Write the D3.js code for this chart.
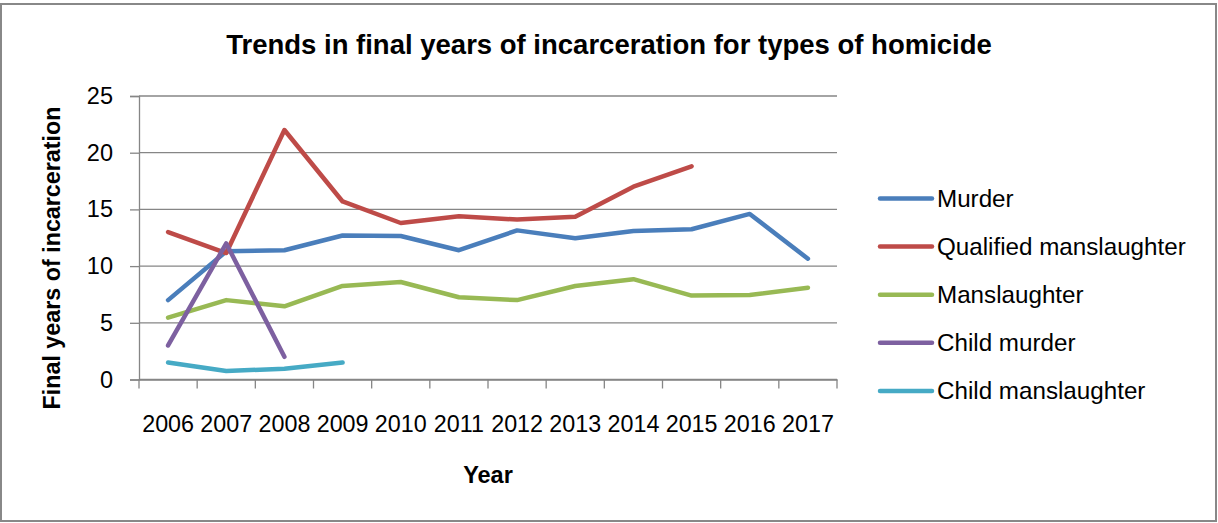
<!DOCTYPE html>
<html>
<head>
<meta charset="utf-8">
<script src="https://cdn.jsdelivr.net/npm/d3@7"></script>
<style>
  body { margin: 0; background: #fff; }
  svg { display: block; font-family: "Liberation Sans", Arial, sans-serif; }
</style>
</head>
<body>
<svg id="chart" width="1218" height="523"></svg>
<script>
var years = ["2006", "2007", "2008", "2009", "2010", "2011", "2012", "2013", "2014", "2015", "2016", "2017"];
var yTicks = [0, 5, 10, 15, 20, 25];

var seriesNames = ["Murder", "Qualified manslaughter", "Manslaughter", "Child murder", "Child manslaughter"];
var murder = [7.0, 11.3, 11.4, 12.7, 12.65, 11.4, 13.15, 12.45, 13.1, 13.25, 14.6, 10.65];
var qualifiedManslaughter = [13.0, 11.15, 22.0, 15.7, 13.8, 14.4, 14.1, 14.35, 17.0, 18.8, null, null];
var manslaughter = [5.45, 7.0, 6.45, 8.25, 8.6, 7.25, 7.0, 8.25, 8.85, 7.4, 7.45, 8.1];
var childMurder = [3.0, 12.0, 2.0, null, null, null, null, null, null, null, null, null];
var childManslaughter = [1.5, 0.75, 0.95, 1.5, null, null, null, null, null, null, null, null];

var colours = ["#4A7EBB", "#BE4B48", "#98B954", "#7D60A0", "#46AAC5"];

var svg = d3.select("#chart");

// outer border
svg.append("rect")
  .attr("x", 1).attr("y", 4)
  .attr("width", 1215).attr("height", 517)
  .attr("fill", "#fff")
  .attr("stroke", "#888")
  .attr("stroke-width", 2);

var x = d3.scaleBand().domain(years).range([139, 837]);
var y = d3.scaleLinear().domain([0, 25]).range([379.5, 96]);

// gridlines
svg.append("g")
  .selectAll("line")
  .data(yTicks)
  .enter().append("line")
  .attr("x1", 139).attr("x2", 837)
  .attr("y1", function(d) { return y(d); })
  .attr("y2", function(d) { return y(d); })
  .attr("stroke", "#868686")
  .attr("stroke-width", 1.3);

// y axis
var yAxis = d3.axisLeft(y).tickValues(yTicks).tickSize(9).tickPadding(17);
var gy = svg.append("g")
  .attr("transform", "translate(139,0)")
  .call(yAxis);
gy.select(".domain").attr("stroke", "#868686").attr("stroke-width", 1.3);
gy.selectAll(".tick line").attr("stroke", "#868686").attr("stroke-width", 1.3);
gy.selectAll(".tick text")
  .attr("fill", "#000")
  .style("font-size", "23.5px")
  .style("font-family", "Liberation Sans, Arial, sans-serif");

// x axis (ticks between categories)
var xAxis = d3.axisBottom(x).tickSize(0).tickPadding(0);
var gx = svg.append("g")
  .attr("transform", "translate(0," + y(0) + ")")
  .call(xAxis);
gx.select(".domain").attr("stroke", "#868686").attr("stroke-width", 1.3);
gx.selectAll(".tick text")
  .attr("y", 52)
  .attr("dy", 0)
  .attr("fill", "#000")
  .style("font-size", "23.3px")
  .style("font-family", "Liberation Sans, Arial, sans-serif");

var boundaries = years.map(function(d) { return x(d); }).concat([x.range()[1]]);
svg.append("g")
  .selectAll("line")
  .data(boundaries)
  .enter().append("line")
  .attr("x1", function(d) { return d; })
  .attr("x2", function(d) { return d; })
  .attr("y1", y(0))
  .attr("y2", y(0) + 9)
  .attr("stroke", "#868686")
  .attr("stroke-width", 1.3);

// series lines
var allSeries = [murder, qualifiedManslaughter, manslaughter, childMurder, childManslaughter];
var line = d3.line()
  .defined(function(d) { return d !== null; })
  .x(function(d, i) { return x(years[i]) + x.bandwidth() / 2; })
  .y(function(d) { return y(d); });

svg.append("g")
  .selectAll("path")
  .data(allSeries)
  .enter().append("path")
  .attr("d", line)
  .attr("fill", "none")
  .attr("stroke", function(d, i) { return colours[i]; })
  .attr("stroke-width", 4.5)
  .attr("stroke-linejoin", "round")
  .attr("stroke-linecap", "round");

// legend
var legend = svg.selectAll(".legend")
  .data(seriesNames)
  .enter().append("g")
  .attr("class", "legend")
  .attr("transform", function(d, i) { return "translate(880," + (198.5 + i * 48.1) + ")"; });

legend.append("line")
  .attr("x1", 0).attr("x2", 52)
  .attr("stroke", function(d, i) { return colours[i]; })
  .attr("stroke-width", 4.5)
  .attr("stroke-linecap", "round");

legend.append("text")
  .attr("x", 57)
  .attr("dy", "0.35em")
  .style("font-size", "24.2px")
  .text(function(d) { return d; });

// titles
svg.append("text")
  .attr("x", 609)
  .attr("y", 54)
  .attr("text-anchor", "middle")
  .style("font-size", "27.5px")
  .style("font-weight", "bold")
  .text("Trends in final years of incarceration for types of homicide");

svg.append("text")
  .attr("x", 488)
  .attr("y", 483)
  .attr("text-anchor", "middle")
  .style("font-size", "23.5px")
  .style("font-weight", "bold")
  .text("Year");

svg.append("text")
  .attr("transform", "translate(60,258) rotate(-90)")
  .attr("text-anchor", "middle")
  .style("font-size", "23.3px")
  .style("font-weight", "bold")
  .text("Final years of incarceration");
</script>
</body>
</html>
